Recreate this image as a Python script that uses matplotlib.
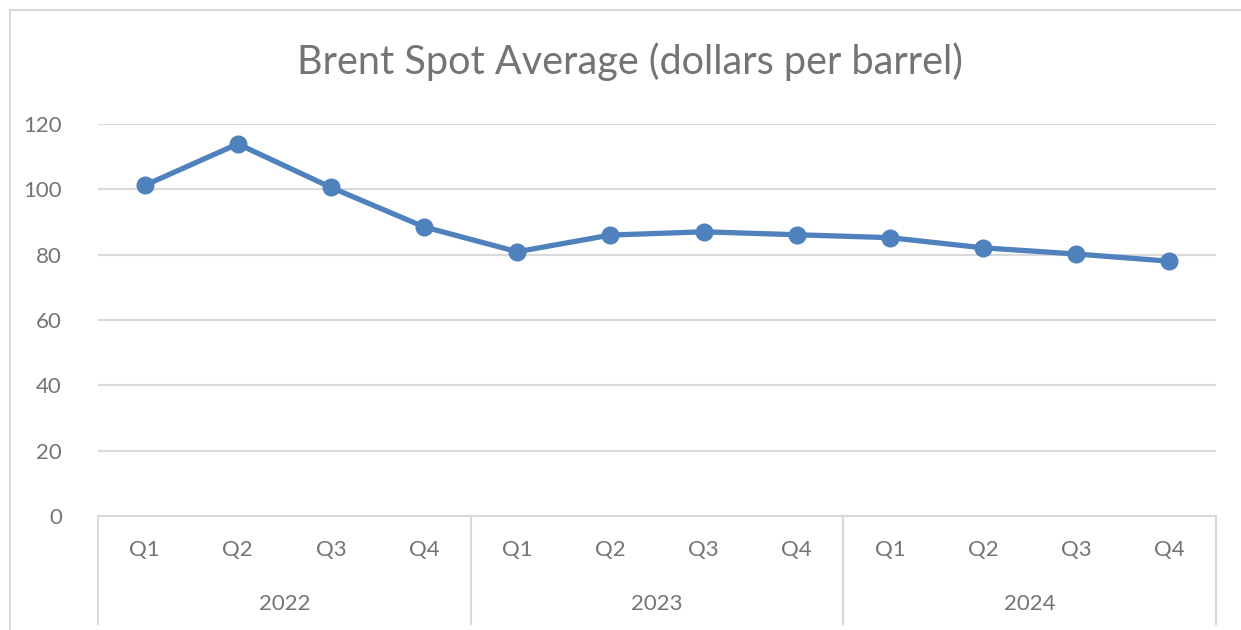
import matplotlib
matplotlib.use("Agg")
import matplotlib.pyplot as plt
from matplotlib.lines import Line2D
from matplotlib.patches import Rectangle

quarters = ["Q1", "Q2", "Q3", "Q4"] * 3
years = ["2022", "2023", "2024"]
values = [101.2, 113.9, 100.6, 88.5, 80.9, 86.0, 87.0, 86.1, 85.2, 82.1, 80.2, 78.0]
yticks = [0, 20, 40, 60, 80, 100, 120]

TXT = "#747474"
GRID = "#D9D9D9"
LINE = "#4F81BD"
FONT = ["Lato", "DejaVu Sans"]

W, H = 1241, 630
fig = plt.figure(figsize=(W / 100, H / 100), dpi=100)
fig.patch.set_facecolor("white")

x0, x1, yb, yt = 98, 1216, 516, 124
ax = fig.add_axes([x0 / W, (H - yb) / H, (x1 - x0) / W, (yb - yt) / H])

n = len(values)
xs = list(range(n))
ax.set_xlim(-0.5, n - 0.5)
ax.set_ylim(0, 120)
ax.set_yticks(yticks)
ax.set_yticklabels([str(v) for v in yticks], fontfamily=FONT, fontsize=16, color=TXT)
ax.tick_params(axis="y", length=0, pad=26)
ax.set_xticks([])
ax.grid(axis="y", color=GRID, linewidth=1.5)
ax.set_axisbelow(True)
for s in ["top", "right", "left"]:
    ax.spines[s].set_visible(False)
ax.spines["bottom"].set_color(GRID)
ax.spines["bottom"].set_linewidth(1.5)

ax.plot(xs, values, color=LINE, linewidth=3.8, marker="o", markersize=12,
        solid_joinstyle="round", clip_on=False, zorder=3)

# multi-level category axis
for i, q in enumerate(quarters):
    fig.text((x0 + (i + 0.5) * (x1 - x0) / n) / W, 1 - 550 / H, q, ha="center", va="center",
             fontfamily=FONT, fontsize=16, color=TXT)
for g, yr in enumerate(years):
    cx = x0 + (g * 4 + 2) * (x1 - x0) / n
    fig.text(cx / W, 1 - 604 / H, yr, ha="center", va="center",
             fontfamily=FONT, fontsize=16, color=TXT)
for g in range(len(years) + 1):
    px = x0 + g * 4 * (x1 - x0) / n
    fig.add_artist(Line2D([px / W, px / W], [1 - yb / H, 1 - 624 / H], color=GRID,
                          linewidth=1.5, transform=fig.transFigure))

fig.text(630 / W, 1 - 62 / H, "Brent Spot Average (dollars per barrel)", ha="center", va="center",
         fontfamily=FONT, fontsize=28.5, color=TXT)

fig.add_artist(Rectangle((10 / W, -0.1), 1.2, 1 - 10 / H + 0.1, transform=fig.transFigure,
                         fill=False, edgecolor=GRID, linewidth=1.5))

fig.savefig("out.png", dpi=100, facecolor="white")
